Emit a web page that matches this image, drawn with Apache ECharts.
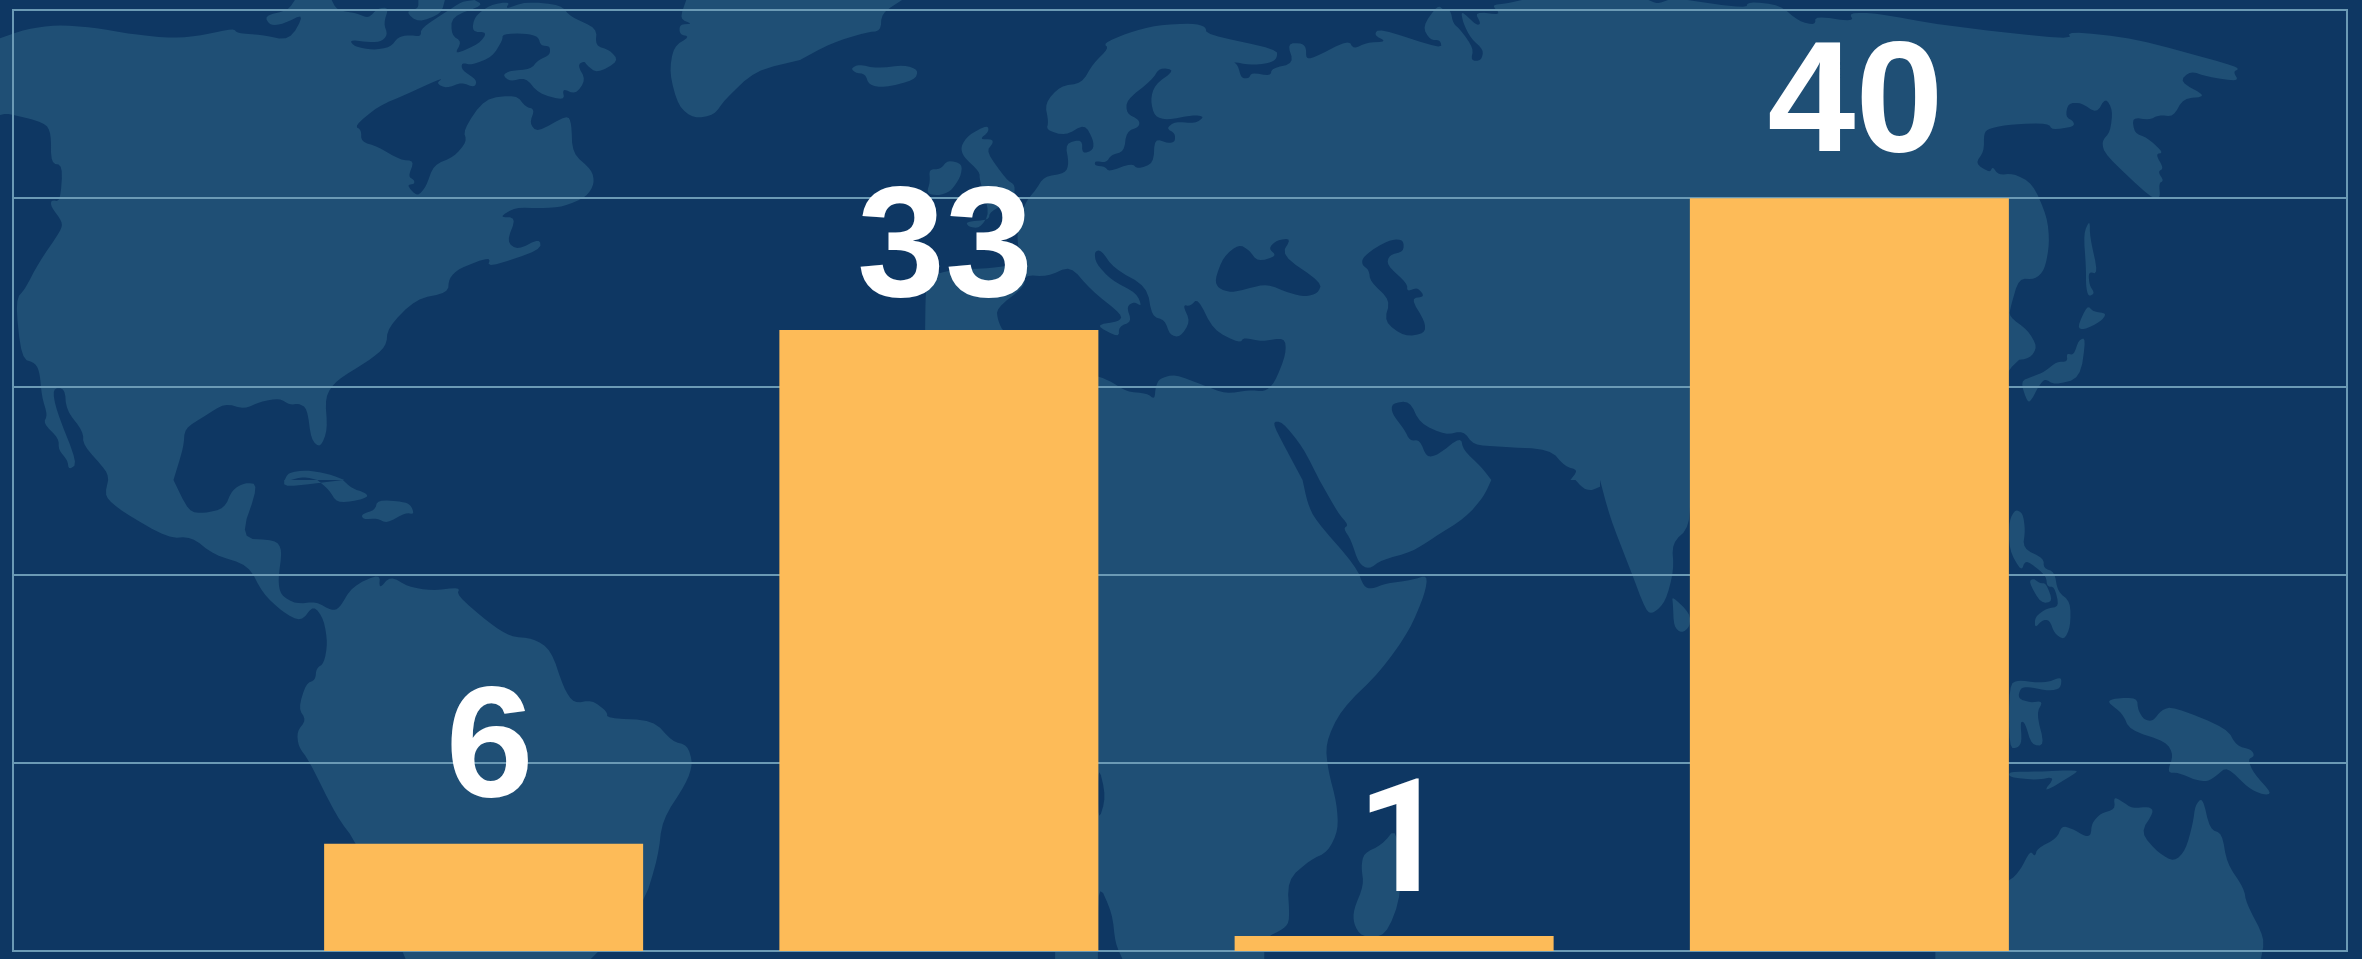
<!DOCTYPE html>
<html>
<head>
<meta charset="utf-8">
<style>
  html,body{margin:0;padding:0;background:#0e3763;}
  #main{width:2362px;height:959px;}
</style>
<script src="https://cdn.jsdelivr.net/npm/echarts@6/dist/echarts.min.js"></script>
</head>
<body>
<div id="main"></div>
<script>
// bar heights, labels are the rounded numbers printed above them
var categories = ['A', 'B', 'C', 'D'];
var barValues = [5.7, 33, 0.8, 40];
var barLabels = ['6', '33', '1', '40'];
var yTicks = [0, 10, 20, 30, 40, 50];

var BG = '#0e3763', LAND = '#1f4f75', LINE = '#6b9ab5', BAR = '#fdbb58';

// background map, traced by hand. each block is one crop of the picture:
// ox/oy offset, fx horizontal factor, y factor is always 3
var mapBlocks = [
  { ox: 0, oy: 0, fx: 1.96, land: [
    [0,115,50,88,110,75,180,82,260,103,340,115,400,105,458,85,465,100,510,104,568,122,597,40,555,72,530,77,518,48,565,30,578,0,650,0,660,30,700,40,722,55,740,25,762,22,752,70,760,105,745,127,715,125,685,120,695,140,730,150,765,142,780,112,800,105,825,110,825,85,880,30,905,5,930,0,948,15,885,50,885,105,905,125,890,165,940,130,955,97,925,95,930,50,960,15,1000,5,990,28,1030,5,1100,15,1118,50,1170,85,1167,137,1195,150,1213,183,1170,220,1150,195,1145,183,1132,195,1148,240,1128,283,1102,265,1107,302,1055,280,1030,232,1000,245,985,225,1000,212,1040,208,1055,180,1078,165,1078,138,1060,137,1055,110,1030,100,985,102,985,120,965,170,925,195,905,188,905,210,935,240,930,263,905,247,875,265,855,250,870,232,800,280,740,320,695,378,708,390,708,425,740,440,785,480,812,482,800,530,812,540,812,552,797,555,818,590,835,560,850,495,890,470,915,425,908,390,950,295,1012,285,1030,320,1048,328,1038,370,1053,397,1112,345,1120,370,1122,460,1160,510,1165,550,1150,590,1105,620,1060,625,1010,622,978,652,1012,652,993,725,1015,750,1058,715,1060,750,955,803,962,770,900,805,880,835,878,878,815,897,760,983,757,1040,720,1085,660,1140,637,1190,642,1290,628,1343,610,1320,602,1225,585,1210,568,1215,548,1195,510,1205,480,1227,440,1210,400,1250,362,1285,360,1340,340,1440,212,1440,210,1415,163,1335,163,1295,130,1230,127,1165,103,1165,110,1230,152,1390,135,1410,132,1380,115,1350,115,1315,85,1270,93,1245,82,1190,78,1120,70,1090,42,1075,30,900,50,865,75,790,120,690,122,665,100,620,100,600,118,605,123,495,100,490,100,400,88,368,15,340,0,345],
    [820,0,872,0,865,40,820,68,795,35,820,25],
    [1345,0,1568,0,1568,180,1480,212,1420,300,1400,345,1360,355,1330,320,1312,220,1320,140,1352,110,1332,103,1332,73,1358,72,1332,57],
    [558,1440,565,1418,600,1410,645,1422,675,1440,622,1440,595,1430,570,1440]
  ]},
  { ox: 800, oy: 0, fx: 1.96, land: [
    [0,0,200,0,160,40,158,93,130,97,60,130,0,180],
    [100,205,115,193,150,205,205,195,232,210,225,240,165,263,135,255,128,222,108,218],
    [253,508,275,508,290,480,318,492,315,530,295,575,270,587,248,580,255,545],
    [368,375,370,395,352,418,377,418,378,430,365,455,405,540,422,555,418,600,372,635,370,660,325,665,330,680,352,685,372,640,352,540,352,515,320,470,315,440,330,405],
    [595,130,640,100,700,75,770,70,795,80,797,103,935,148,935,175,920,190,880,195,848,185,858,195,865,235,880,235,885,218,922,228,925,205,968,190,955,130,985,130,992,145,992,175,1005,175,1075,120,1085,147,1110,128,1150,125,1125,105,1135,85,1258,147,1255,120,1235,120,1220,80,1250,15,1262,30,1275,30,1280,70,1295,90,1320,145,1315,182,1335,182,1340,150,1315,115,1300,70,1295,30,1325,75,1335,72,1322,35,1375,45,1355,15,1385,10,1415,0,1568,0,1568,1440,245,1440,245,900,250,830,300,808,375,805,435,790,425,720,430,650,445,600,462,570,478,530,520,520,527,490,520,430,553,418,553,462,575,450,575,420,558,372,520,407,483,390,487,365,480,310,510,258,552,250,575,190,605,145]
  ], water: [
    [735,210,705,203,690,240,640,300,640,340,665,360,665,380,640,395,635,455,610,465,600,488,578,483,578,497,598,500,605,515,650,490,662,507,693,490,695,415,722,430,735,425,735,400,718,385,735,365,775,370,793,350,770,345,720,360,695,350,687,300,695,255],
    [860,733,880,750,897,785,935,768,918,745,935,720,963,715,943,765,1023,848,1015,880,990,890,960,880,915,852,880,865,845,878,820,865,813,840,830,770],
    [1183,720,1160,718,1125,745,1102,775,1102,795,1115,810,1118,845,1157,900,1145,965,1185,1010,1225,1000,1225,965,1197,895,1225,890,1210,862,1190,875,1190,850,1150,795,1155,765,1183,755],
    [440,825,485,830,530,797,570,870,632,945,625,965,578,975,625,1013,625,980,650,965,640,920,655,905,670,920,660,880,610,840,580,790,577,755,590,750,615,805,680,860,690,950,715,960,725,1005,745,1012,765,965,750,915,765,918,780,895,810,990,862,1030,870,1012,905,1025,950,1012,953,1060,930,1150,910,1175,880,1170,835,1182,790,1155,735,1123,705,1135,697,1160,695,1198,680,1180,640,1175,610,1145,584,1128,500,1100,400,1000,388,962,385,925,440,860],
    [1160,1210,1195,1203,1215,1270,1265,1305,1300,1292,1320,1335,1370,1340,1470,1348,1500,1400,1525,1410,1510,1440,1355,1440,1335,1400,1300,1350,1295,1310,1250,1365,1228,1372,1215,1320,1195,1322,1185,1290,1160,1240],
    [925,1265,945,1265,985,1340,1018,1440,985,1440,950,1340]
  ]},
  { ox: 1600, oy: 0, fx: 2.0577, land: [
    [0,0,100,0,118,12,140,0,180,0,300,25,305,5,370,15,410,65,443,75,443,48,523,65,512,38,570,40,700,75,970,120,962,93,1100,115,1300,195,1315,207,1303,215,1315,245,1250,230,1215,213,1192,245,1250,290,1200,295,1180,350,1150,345,1130,360,1095,352,1100,400,1125,412,1160,458,1143,462,1160,505,1148,515,1160,542,1150,550,1153,595,1135,595,1040,465,1032,425,1050,395,1055,330,1040,293,1022,340,990,308,963,310,958,350,975,365,975,380,930,390,923,370,850,372,800,385,790,400,790,455,772,490,802,518,808,500,820,525,850,520,890,550,920,650,925,730,915,810,895,838,862,835,845,920,842,950,880,990,900,1040,885,1075,850,1082,700,1440,0,1440],
    [1008,660,995,700,1000,800,1000,860,1005,890,1018,880,1007,855,1005,815,1025,822,1008,710],
    [1003,915,1015,935,1043,940,1030,965,995,990,982,982],
    [1000,1013,985,1020,975,1065,960,1060,962,1085,940,1085,915,1115,890,1130,865,1143,880,1210,890,1195,900,1165,915,1135,935,1155,988,1135]
  ]},
  { ox: 0, oy: 480, fx: 1.96, land: [
    [212,0,205,50,240,95,330,175,375,170,420,225,487,255,515,340,555,397,590,425,615,375,635,420,642,490,635,550,620,565,618,600,600,610,585,685,600,720,582,755,585,800,605,840,660,1010,700,1090,795,1437,1158,1437,1260,1280,1290,1130,1298,1020,1345,910,1358,850,1347,795,1318,785,1280,720,1190,715,1190,695,1160,660,1125,670,1105,625,1080,510,1045,475,1000,470,960,430,895,345,902,322,845,332,800,320,765,288,743,328,745,280,690,320,665,385,650,392,620,365,580,372,550,345,545,300,553,210,540,180,470,175,507,13,480,8,455,30,440,85,400,100,370,95,340,0],
    [557,22,557,0,570,0,622,0,645,30,660,68,700,62,722,50,715,38,690,25,672,0],
    [740,60,790,65,805,75,812,103,795,98,758,130,740,115,712,118,708,103,735,90]
  ]},
  { ox: 800, oy: 480, fx: 1.96, land: [
    [500,0,985,0,995,70,1010,120,1090,260,1105,320,1120,327,1150,310,1200,300,1230,285,1225,340,1195,450,1140,570,1060,690,1030,790,1035,870,1052,970,1055,1050,1035,1115,1000,1140,955,1200,960,1320,950,1345,910,1375,910,1437,632,1437,500,1437],
    [1018,0,1355,0,1340,50,1305,112,1240,175,1200,215,1140,240,1115,268,1095,250,1080,180,1065,145,1075,135,1055,100],
    [1170,1040,1140,1095,1105,1120,1100,1160,1105,1215,1085,1290,1085,1330,1100,1370,1148,1370,1180,1240],
    [1520,0,1535,25,1550,32,1568,20,1568,0]
  ], water: [
    [584,850,600,950,584,1030],
    [584,1205,612,1300,618,1390,632,1437,584,1437]
  ]},
  { ox: 1600, oy: 480, fx: 2.0577, land: [
    [0,0,185,0,185,140,148,190,152,270,135,365,110,400,95,395,60,260,20,110],
    [148,348,185,400,185,440,168,460,152,440,150,370],
    [842,120,855,88,870,100,875,150,870,205,913,235,913,265,935,275,942,335,968,365,968,440,955,480,935,460,925,420,910,420,895,445,895,410,920,385,945,380,935,320,920,320,918,290,900,265,875,240,867,275,842,210],
    [882,305,892,295,905,310,918,310,932,365,907,370],
    [842,615,860,600,900,608,925,605,950,590,948,625,925,633,880,620,865,625,860,655,885,668,912,663,898,700,915,797,888,795,875,730,865,722,868,785,860,803,842,805],
    [842,875,900,875,983,870,978,880,910,940,937,890,900,900,842,892],
    [1043,665,1060,655,1105,653,1107,690,1120,720,1138,723,1155,690,1180,680,1290,745,1310,798,1340,808,1347,828,1333,838,1345,880,1383,940,1365,945,1335,925,1290,860,1270,885,1250,905,1225,900,1190,878,1167,878,1180,825,1165,785,1090,750,1075,700],
    [842,1205,865,1170,885,1112,895,1130,900,1105,940,1075,950,1038,970,1045,1000,1070,1010,1065,1012,1030,1030,1000,1060,988,1057,950,1075,965,1095,985,1130,980,1140,995,1112,1058,1150,1120,1182,1145,1205,1110,1220,1030,1225,975,1240,952,1255,1048,1280,1060,1290,1150,1325,1225,1330,1270,1368,1375,1360,1437,690,1437,690,1300]
  ]}
];

// rounds the corners a bit, points on a crop edge stay put so the blocks still join
function roundCorners(pts, w) {
  var out = [], n = pts.length;
  for (var i = 0; i < n; i++) {
    var p = pts[i], a = pts[(i + n - 1) % n], b = pts[(i + 1) % n];
    if (p[0] <= 0 || p[0] >= 1568 || p[1] <= 0 || p[1] >= 1437) {
      out.push(p);
      continue;
    }
    out.push([p[0] + (a[0] - p[0]) * w, p[1] + (a[1] - p[1]) * w]);
    out.push([p[0] + (b[0] - p[0]) * w, p[1] + (b[1] - p[1]) * w]);
  }
  return out;
}

function mapElements() {
  var els = [];
  function add(block, flat, color, z) {
    var pts = [];
    for (var i = 0; i < flat.length; i += 2) {
      pts.push([flat[i], flat[i + 1]]);
    }
    pts = roundCorners(roundCorners(pts, 0.22), 0.25);
    pts = pts.map(function (p) {
      return [block.ox + p[0] / block.fx, block.oy + p[1] / 3];
    });
    els.push({ type: 'polygon', silent: true, z: z, shape: { points: pts }, style: { fill: color } });
  }
  mapBlocks.forEach(function (b) {
    b.land.forEach(function (p) { add(b, p, LAND, -20); });
  });
  mapBlocks.forEach(function (b) {
    (b.water || []).forEach(function (p) { add(b, p, BG, -10); });
  });
  return els;
}

// the 33 sits lower above its bar in the picture, and the 1 has no foot there so Liberation won't do
function barItem(value, i) {
  var label = {};
  if (barLabels[i] === '33') label.offset = [6, 13];
  if (barLabels[i] === '1') {
    label.fontFamily = 'Roboto, sans-serif';
    label.offset = [8, 7];
  }
  return { value: value, label: label };
}

var myChart = echarts.init(document.getElementById('main'), null, { renderer: 'canvas' });
myChart.setOption({
  animation: false,
  backgroundColor: BG,
  graphic: { elements: mapElements() },
  grid: [
    // the frame with the lines runs wider than the bars
    { left: 13, right: 15, top: 10, bottom: 8, show: true, borderColor: LINE, borderWidth: 2, backgroundColor: 'transparent' },
    { left: 256, width: 1821, top: 10, bottom: 8 }
  ],
  xAxis: [
    { gridIndex: 0, type: 'category', data: categories, show: false },
    { gridIndex: 1, type: 'category', data: categories, show: false }
  ],
  yAxis: [
    { gridIndex: 0, type: 'value', min: yTicks[0], max: yTicks[yTicks.length - 1], interval: yTicks[1] - yTicks[0],
      axisLine: { show: false }, axisTick: { show: false }, axisLabel: { show: false },
      splitLine: { show: true, lineStyle: { color: LINE, width: 2 } } },
    { gridIndex: 1, type: 'value', min: yTicks[0], max: yTicks[yTicks.length - 1], show: false, splitLine: { show: false } }
  ],
  series: [
    {
      type: 'bar',
      xAxisIndex: 1,
      yAxisIndex: 1,
      data: barValues.map(barItem),
      barWidth: 319,
      itemStyle: { color: BAR },
      silent: true,
      label: {
        show: true,
        position: 'top',
        distance: 12,
        offset: [6, 0],
        color: '#ffffff',
        fontFamily: '"Liberation Sans", sans-serif',
        fontWeight: 'bold',
        fontSize: 158,
        formatter: function (params) {
          return barLabels[params.dataIndex];
        }
      }
    }
  ]
});
</script>
</body>
</html>
